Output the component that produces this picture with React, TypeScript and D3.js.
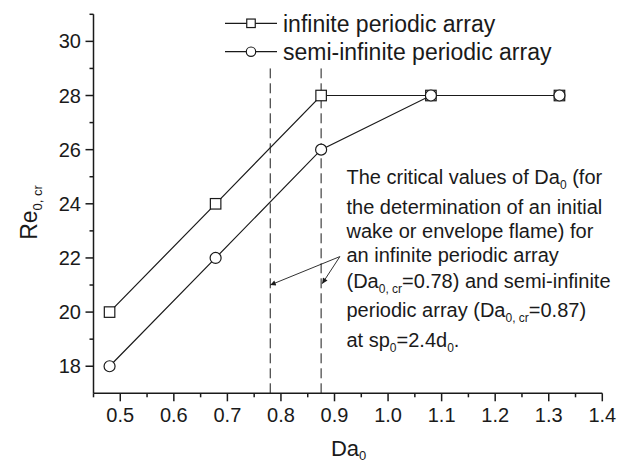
import React from 'react';
import * as d3 from 'd3';

const daInfinite = [0.48, 0.678, 0.875, 1.08, 1.32];
const reInfinite = [20, 24, 28, 28, 28];
const daSemi = [0.48, 0.678, 0.875, 1.08, 1.32];
const reSemi = [18, 22, 26, 28, 28];
const xTicks = [0.5, 0.6, 0.7, 0.8, 0.9, 1.0, 1.1, 1.2, 1.3, 1.4];
const xMinor = [0.45, 0.55, 0.65, 0.75, 0.85, 0.95, 1.05, 1.15, 1.25, 1.35];
const yTicks = [18, 20, 22, 24, 26, 28, 30];
const yMinor = [19, 21, 23, 25, 27, 29, 31];
const criticalDa = [0.78, 0.875];
const seriesNames = ['infinite periodic array', 'semi-infinite periodic array'];
const annotationLines = [
  [['The critical values of Da', ''], ['0', 'sub'], [' (for', '']],
  [['the determination of an initial', '']],
  [['wake or envelope flame) for', '']],
  [['an infinite periodic array', '']],
  [['(Da', ''], ['0, cr', 'sub'], ['=0.78) and semi-infinite', '']],
  [['periodic array (Da', ''], ['0, cr', 'sub'], ['=0.87)', '']],
  [['at sp', ''], ['0', 'sub'], ['=2.4d', ''], ['0', 'sub'], ['.', '']],
];
const annotationBaselines = [183.5, 214, 237.5, 262, 287.5, 317, 347];
const arrowStart = { x: 0.91, y: 22.05 };
const arrowTips = [{ x: 0.78, y: 21.0 }, { x: 0.877, y: 21.05 }];

const FONT = 'Liberation Sans, Arial, Helvetica, sans-serif';
const INK = '#1a1a1a';

function Rich({ parts, x, y, size, subSize }: any) {
  const out: any[] = [];
  let shifted = false;
  parts.forEach((p: any, i: number) => {
    const [txt, kind] = p;
    if (kind === 'sub') {
      out.push(<tspan key={i} dy={shifted ? 0 : 5} fontSize={subSize}>{txt}</tspan>);
      shifted = true;
    } else {
      out.push(<tspan key={i} dy={shifted ? -5 : 0} fontSize={size}>{txt}</tspan>);
      shifted = false;
    }
  });
  return <text x={x} y={y} fontSize={size} fontFamily={FONT} fill={INK}>{out}</text>;
}

export default function App() {
  const W = 617, H = 464;
  const x = d3.scaleLinear().domain([0.45, 1.4]).range([93.5, 602.3]);
  const y = d3.scaleLinear().domain([17, 31]).range([393.3, 14.3]);
  const line = d3.line<[number, number]>().x(d => x(d[0])).y(d => y(d[1]));
  const inf = daInfinite.map((d, i) => [d, reInfinite[i]] as [number, number]);
  const semi = daSemi.map((d, i) => [d, reSemi[i]] as [number, number]);
  const x0 = x.range()[0], x1 = x.range()[1];
  const yb = y.range()[0], yt = y.range()[1];

  const square = (cx: number, cy: number, s: number, key: any) => (
    <rect key={key} x={cx - s / 2} y={cy - s / 2} width={s} height={s} fill="#fff" stroke={INK} strokeWidth={1.2} />
  );
  const circle = (cx: number, cy: number, r: number, key: any) => (
    <circle key={key} cx={cx} cy={cy} r={r} fill="#fff" stroke={INK} strokeWidth={1.2} />
  );

  return (
    <svg width={W} height={H} style={{ position: 'absolute', left: 0, top: 0, background: '#fff' }}>
      <defs>
        <marker id="ah" viewBox="0 0 10 10" refX="10" refY="5" markerWidth="9" markerHeight="5.5" markerUnits="userSpaceOnUse" orient="auto">
          <path d="M0,0 L10,5 L0,10 z" fill={INK} />
        </marker>
      </defs>
      <rect x={0} y={0} width={W} height={H} fill="#fff" />
      {criticalDa.map((c, i) => (
        <line key={i} x1={x(c)} x2={x(c)} y1={y(17)} y2={y(29)} stroke={INK} strokeWidth={1} strokeDasharray="10,5" />
      ))}
      {arrowTips.map((t, i) => (
        <line key={i} x1={x(arrowStart.x)} y1={y(arrowStart.y)} x2={x(t.x)} y2={y(t.y)} stroke={INK} strokeWidth={0.9} markerEnd="url(#ah)" />
      ))}
      <line x1={x0} x2={x1} y1={yb} y2={yb} stroke={INK} strokeWidth={1.5} />
      <line x1={x0} x2={x0} y1={yb} y2={yt} stroke={INK} strokeWidth={1.5} />
      {xTicks.map(t => (
        <g key={t}>
          <line x1={x(t)} x2={x(t)} y1={yb} y2={yb + 8} stroke={INK} strokeWidth={1.5} />
          <text x={x(t)} y={421.5} textAnchor="middle" fontSize={20} fontFamily={FONT} fill={INK}>{d3.format('.1f')(t)}</text>
        </g>
      ))}
      {xMinor.map(t => (
        <line key={t} x1={x(t)} x2={x(t)} y1={yb} y2={yb + 4} stroke={INK} strokeWidth={1.5} />
      ))}
      {yTicks.map(t => (
        <g key={t}>
          <line x1={x0 - 8} x2={x0} y1={y(t)} y2={y(t)} stroke={INK} strokeWidth={1.5} />
          <text x={81} y={y(t) + 7} textAnchor="end" fontSize={20} fontFamily={FONT} fill={INK}>{t}</text>
        </g>
      ))}
      {yMinor.map(t => (
        <line key={t} x1={x0 - 4} x2={x0} y1={y(t)} y2={y(t)} stroke={INK} strokeWidth={1.5} />
      ))}
      <text x={x((0.45 + 1.4) / 2) - 17} y={456} fontSize={22} fontFamily={FONT} fill={INK}>
        Da<tspan dy={4} fontSize={13}>0</tspan>
      </text>
      <g transform={`translate(37, 212.5) rotate(-90)`}>
        <text x={0} y={0} textAnchor="middle" fontSize={23} fontFamily={FONT} fill={INK}>
          Re<tspan dy={5} fontSize={13}>0, cr</tspan>
        </text>
      </g>
      <path d={line(inf) || ''} fill="none" stroke={INK} strokeWidth={1.2} />
      <path d={line(semi) || ''} fill="none" stroke={INK} strokeWidth={1.2} />
      {inf.map((d, i) => square(x(d[0]), y(d[1]), 10.5, 'i' + i))}
      {semi.map((d, i) => circle(x(d[0]), y(d[1]), 5.5, 's' + i))}
      {seriesNames.map((n, i) => {
        const cy = 23.3 + i * 28.4;
        return (
          <g key={n}>
            <line x1={225} x2={277} y1={cy} y2={cy} stroke={INK} strokeWidth={1.2} />
            {i === 0 ? square(251, cy, 8.5, 'ls') : circle(251, cy, 4.7, 'lc')}
            <text x={283} y={cy + 8.2} fontSize={23} fontFamily={FONT} fill={INK}>{n}</text>
          </g>
        );
      })}
      {annotationLines.map((parts, i) => (
        <Rich key={i} parts={parts} x={346.5} y={annotationBaselines[i]} size={20} subSize={12} />
      ))}
    </svg>
  );
}
